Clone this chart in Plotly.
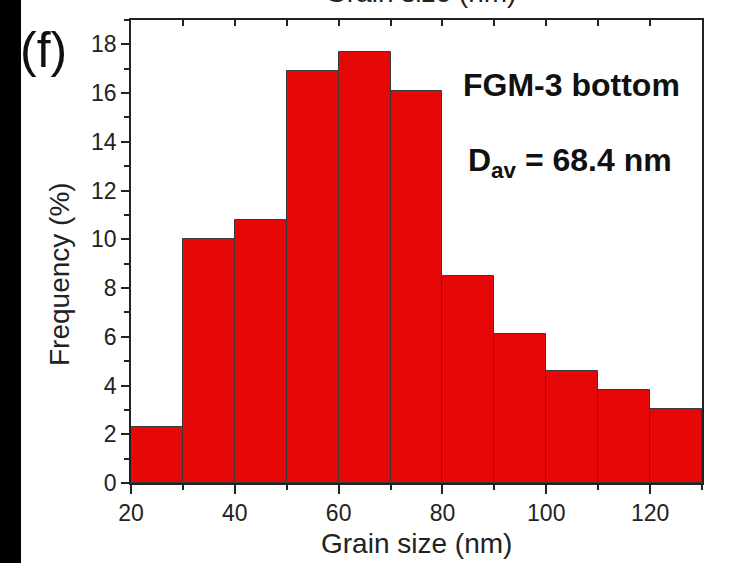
import plotly.graph_objects as go

# Data
bin_left = [20, 30, 40, 50, 60, 70, 80, 90, 100, 110, 120]
frequency = [2.3, 10.0, 10.8, 16.9, 17.7, 16.1, 8.5, 6.1, 4.6, 3.8, 3.05]
bin_width = 10
x_ticks = [20, 40, 60, 80, 100, 120]
y_ticks = [0, 2, 4, 6, 8, 10, 12, 14, 16, 18]

W, H = 729, 563
ml, mr, mt, mb = 131, 27, 20, 80
pw = W - ml - mr
ph = H - mt - mb

def px(x):
    return (x - ml) / pw

def py(y):
    return (H - mb - y) / ph

FONT = "Liberation Sans, Arial, sans-serif"

fig = go.Figure()
fig.add_trace(go.Bar(
    x=bin_left, y=frequency, width=[bin_width] * len(bin_left), offset=0,
    marker=dict(color="#E60808", line=dict(color="#3a3a3a", width=1)),
    showlegend=False, hoverinfo="x+y",
))
# invisible trace on top axis to carry inner ticks
fig.add_trace(go.Scatter(x=[bin_left[0]], y=[0], xaxis="x2", mode="markers",
                         marker=dict(opacity=0), showlegend=False, hoverinfo="skip"))

fig.update_layout(
    width=W, height=H,
    margin=dict(l=ml, r=mr, t=mt, b=mb, pad=0),
    paper_bgcolor="white", plot_bgcolor="white",
    bargap=0,
    font=dict(family=FONT, color="#222", size=23),
    xaxis=dict(range=[20, 130], tickvals=x_ticks, ticks="outside", ticklen=9,
               tickwidth=1.5, tickcolor="#222", showline=True, linecolor="#222",
               linewidth=1.5, mirror=True, showgrid=False, zeroline=False,
               minor=dict(dtick=10, ticks="outside", ticklen=5, tickcolor="#222", tickwidth=1.5),
               tickfont=dict(size=23, color="#222")),
    xaxis2=dict(range=[20, 130], overlaying="x", side="top", dtick=10, ticks="inside",
                ticklen=6, tickwidth=1.5, tickcolor="#222", showticklabels=False,
                showgrid=False, zeroline=False, showline=False),
    yaxis=dict(range=[0, 19], tickvals=y_ticks, ticks="outside", ticklen=8,
               tickwidth=1.5, tickcolor="#222", showline=True, linecolor="#222",
               linewidth=1.5, mirror=True, showgrid=False, zeroline=False,
               minor=dict(dtick=1, ticks="outside", ticklen=5, tickcolor="#222", tickwidth=1.5),
               tickfont=dict(size=23, color="#222")),
    shapes=[dict(type="rect", xref="paper", yref="paper",
                 x0=px(-5), x1=px(21), y0=py(H + 5), y1=py(-5),
                 fillcolor="black", line=dict(width=0), layer="above")],
    annotations=[
        dict(text="Grain size (nm)", xref="paper", yref="paper", x=px(416), y=py(543),
             showarrow=False, font=dict(size=28, color="#222"), xanchor="center", yanchor="middle"),
        dict(text="Frequency (%)", xref="paper", yref="paper", x=px(59), y=py(274),
             showarrow=False, textangle=-90, font=dict(size=28, color="#222"),
             xanchor="center", yanchor="middle"),
        dict(text="Grain size (nm)", xref="paper", yref="paper", x=px(420), y=py(-7),
             showarrow=False, font=dict(size=28, color="#222"), xanchor="center", yanchor="middle"),
        dict(text="(f)", xref="paper", yref="paper", x=px(43), y=py(50),
             showarrow=False, font=dict(size=50, color="#111"), xanchor="center", yanchor="middle"),
        dict(text="<b>FGM-3 bottom</b>", xref="paper", yref="paper", x=px(571), y=py(85),
             showarrow=False, font=dict(size=32, color="#111"), xanchor="center", yanchor="middle"),
        dict(text="<b>D<sub>av</sub> = 68.4 nm</b>", xref="paper", yref="paper", x=px(570), y=py(162),
             showarrow=False, font=dict(size=32, color="#111"), xanchor="center", yanchor="middle"),
    ],
)

fig.write_html("out.html")
